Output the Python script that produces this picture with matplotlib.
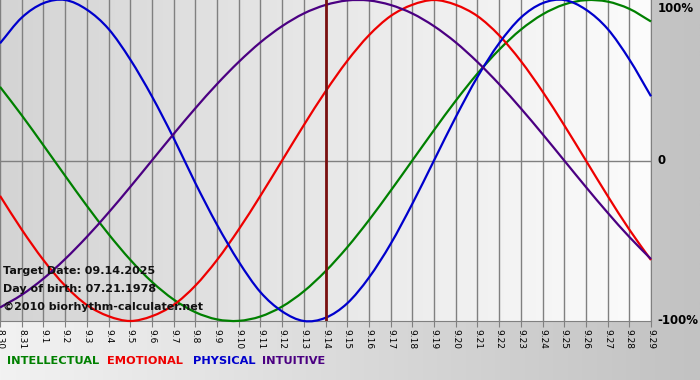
import numpy as np
import matplotlib.pyplot as plt
from matplotlib.colors import LinearSegmentedColormap
from matplotlib.path import Path
from matplotlib.patches import PathPatch

# days shown on the chart
dates = ['8.30', '8.31', '9.1', '9.2', '9.3', '9.4', '9.5', '9.6', '9.7', '9.8',
         '9.9', '9.10', '9.11', '9.12', '9.13', '9.14', '9.15', '9.16', '9.17',
         '9.18', '9.19', '9.20', '9.21', '9.22', '9.23', '9.24', '9.25', '9.26',
         '9.27', '9.28', '9.29']
target_day = '9.14'

# cycle values per day, -1..1
physical = [0.73, 0.89, 0.98, 1.00, 0.94, 0.82, 0.63, 0.40, 0.14, -0.14,
            -0.40, -0.63, -0.82, -0.94, -1.00, -0.98, -0.89, -0.73, -0.52, -0.27,
            0.00, 0.27, 0.52, 0.73, 0.89, 0.98, 1.00, 0.94, 0.82, 0.63, 0.40]
emotional = [-0.22, -0.43, -0.62, -0.78, -0.90, -0.97, -1.00, -0.97, -0.90, -0.78,
             -0.62, -0.43, -0.22, 0.00, 0.22, 0.43, 0.62, 0.78, 0.90, 0.97,
             1.00, 0.97, 0.90, 0.78, 0.62, 0.43, 0.22, 0.00, -0.22, -0.43, -0.62]
intellectual = [0.459, 0.282, 0.095, -0.095, -0.282, -0.458, -0.618, -0.756, -0.866, -0.945,
                -0.990, -0.999, -0.972, -0.910, -0.815, -0.690, -0.541, -0.372, -0.189, 0.00,
                0.189, 0.372, 0.541, 0.690, 0.815, 0.910, 0.972, 0.999, 0.990, 0.945, 0.866]
intuitive = [-0.916, -0.837, -0.736, -0.614, -0.476, -0.325, -0.165, 0.00, 0.165, 0.325,
             0.476, 0.614, 0.736, 0.837, 0.916, 0.969, 0.997, 0.997, 0.969, 0.916,
             0.837, 0.736, 0.614, 0.476, 0.325, 0.165, 0.00, -0.165, -0.325, -0.476, -0.614]

labels = ['INTELLECTUAL', 'EMOTIONAL', 'PHYSICAL', 'INTUITIVE']
colors = ['#008000', '#ee0000', '#0000cc', '#4b0082']
label_x = [7, 107, 193, 262]


def smooth_path(xs, ys):
    # catmull-rom style smooth curve through the data points
    xs = np.asarray(xs, float)
    ys = np.asarray(ys, float)
    px = np.concatenate([[2 * xs[0] - xs[1]], xs, [2 * xs[-1] - xs[-2]]])
    py = np.concatenate([[2 * ys[0] - ys[1]], ys, [2 * ys[-1] - ys[-2]]])
    verts = [(xs[0], ys[0])]
    codes = [Path.MOVETO]
    for i in range(1, len(xs)):
        c1 = (px[i] + (px[i + 1] - px[i - 1]) / 6, py[i] + (py[i + 1] - py[i - 1]) / 6)
        c2 = (px[i + 1] - (px[i + 2] - px[i]) / 6, py[i + 1] - (py[i + 2] - py[i]) / 6)
        verts += [c1, c2, (px[i + 1], py[i + 1])]
        codes += [Path.CURVE4] * 3
    return Path(verts, codes)


x = np.arange(len(dates))

fig = plt.figure(figsize=(7, 3.8), dpi=100)

# figure background: light on the left, grey on the right
bg = fig.add_axes([0, 0, 1, 1], zorder=-10)
bg.imshow(np.linspace(0, 1, 256)[None, :], aspect='auto', extent=[0, 1, 0, 1],
          cmap=LinearSegmentedColormap.from_list('fbg', ['#f2f2f2', '#c2c2c2']))
bg.axis('off')

ax = fig.add_axes([0.0, 1 - 321 / 380, 651 / 700, 321 / 380])
ax.imshow(np.linspace(0, 1, 256)[None, :], aspect='auto',
          extent=[0, len(dates) - 1, -1, 1], zorder=0,
          cmap=LinearSegmentedColormap.from_list('abg', ['#d4d4d4', '#fcfcfc']))
ax.set_xlim(0, len(dates) - 1)
ax.set_ylim(-1, 1)

for xi in x:
    ax.axvline(xi, color='#808080', lw=1, zorder=1)
ax.axhline(0, color='#808080', lw=1, zorder=1)

series = [intellectual, emotional, physical, intuitive]
for vals, c in zip(series, colors):
    ax.add_patch(PathPatch(smooth_path(x, vals), facecolor='none', edgecolor=c,
                           lw=1.6, zorder=3, clip_on=False))

ax.axvline(dates.index(target_day), color='#7a1010', lw=2, zorder=4)

for s in ['top', 'left']:
    ax.spines[s].set_visible(False)
for s in ['bottom', 'right']:
    ax.spines[s].set_color('#808080')

ax.set_xticks(x)
ax.set_xticklabels(dates, rotation=270, fontsize=6.5)
ax.tick_params(axis='x', length=4, color='#808080', pad=2)
ax.set_yticks([])

ax.text(1.01, 0.95, '100%', transform=ax.get_yaxis_transform(), fontsize=8.5,
        fontweight='bold', va='center', ha='left')
ax.text(1.01, 0.0, '0', transform=ax.get_yaxis_transform(), fontsize=8.5,
        fontweight='bold', va='center', ha='left')
ax.text(1.01, -1.0, '-100%', transform=ax.get_yaxis_transform(), fontsize=8.5,
        fontweight='bold', va='center', ha='left')

info = ['Target Date: 09.14.2025', 'Day of birth: 07.21.1978', '\u00a92010 biorhythm-calculater.net']
for i, t in enumerate(info):
    fig.text(3 / 700, 1 - (271 + 18 * i) / 380, t, fontsize=8, fontweight='bold',
             va='center', ha='left', color='#111111', zorder=10)

for lab, c, lx in zip(labels, colors, label_x):
    fig.text(lx / 700, 1 - 361 / 380, lab, color=c, fontsize=8.2,
             fontweight='bold', va='center', ha='left')

fig.savefig('out.png', dpi=100)
